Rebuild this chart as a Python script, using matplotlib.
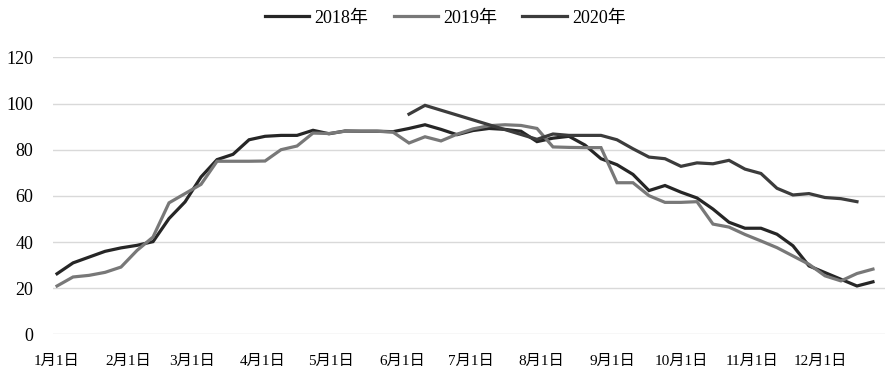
import numpy as np
import pandas as pd
import matplotlib
matplotlib.use('Agg')
import matplotlib.pyplot as plt

plt.rcParams['font.family'] = ['Liberation Serif', 'Noto Sans CJK SC']

# weekly points, week 0 = Jan 1
weeks = np.arange(52)

y2018 = [26.3, 31.0, 33.5, 36.0, 37.5, 38.6, 40.2, 50.2, 57.4, 68.2,
         75.7, 78.0, 84.3, 85.8, 86.2, 86.2, 88.4, 86.9, 88.1, 88.0,
         88.0, 87.8, 89.2, 90.8, 88.8, 86.5, 88.3, 89.2, 88.8, 88.0,
         83.5, 85.0, 85.8, 82.0, 76.1, 73.5, 69.3, 62.3, 64.5, 61.6,
         59.1, 54.3, 48.6, 46.0, 46.0, 43.4, 38.4, 29.7, 26.8, 23.9,
         21.0, 22.8]

y2019 = [21.0, 24.9, 25.6, 26.9, 29.2, 36.4, 42.2, 57.0, 61.0, 65.0,
         75.0, 75.0, 75.0, 75.1, 80.0, 81.6, 87.2, 87.0, 88.0, 88.0,
         88.0, 87.6, 82.9, 85.6, 83.8, 86.7, 89.0, 90.4, 90.8, 90.5,
         89.2, 81.2, 81.0, 80.9, 80.9, 65.7, 65.7, 60.1, 57.2, 57.2,
         57.5, 47.8, 46.5, 43.3, 40.5, 37.6, 34.0, 30.4, 25.4, 23.2,
         26.4, 28.3]

nan = np.nan
y2020 = [nan] * 22 + [95.4, 99.2, nan, nan, nan, nan, nan, nan,
                      84.5, 86.8, 86.2, 86.2, 86.2, 84.3, 80.4, 76.8,
                      76.1, 72.8, 74.3, 73.9, 75.4, 71.6, 69.7, 63.3,
                      60.4, 61.0, 59.3, 58.8, 57.5, nan]

month_labels = ['1月1日', '2月1日', '3月1日', '4月1日', '5月1日', '6月1日',
                '7月1日', '8月1日', '9月1日', '10月1日', '11月1日', '12月1日']
month_days = pd.date_range('2019-01-01', periods=12, freq='MS').dayofyear - 1

series = [('2018年', y2018, '#262626'),
          ('2019年', y2019, '#787878'),
          ('2020年', y2020, '#3c3c3c')]

fig = plt.figure(figsize=(8.87, 3.88), dpi=100)
ax = fig.add_axes([0.0598, 0.1379, 0.9379, 0.7144])

days = weeks * 7
for name, vals, col in series:
    v = np.array(vals, dtype=float)
    m = ~np.isnan(v)
    ax.plot(days[m], v[m], color=col, lw=2.3, label=name, solid_joinstyle='miter')

ax.set_ylim(0, 120)
ax.set_yticks(range(0, 121, 20))
ax.set_xlim(-1.75, 362.25)
ax.set_xticks(month_days)
ax.set_xticklabels(month_labels, fontsize=11)
ax.tick_params(axis='y', labelsize=13, length=0, pad=14)
ax.tick_params(axis='x', length=0, pad=15)
ax.grid(axis='y', color='#d9d9d9', lw=1)
ax.set_axisbelow(True)
for s in ax.spines.values():
    s.set_visible(False)

fig.legend(loc='center', bbox_to_anchor=(0.502, 0.953), ncol=3, frameon=False,
           fontsize=13, handlelength=2.45, handletextpad=0.3, columnspacing=1.4)

fig.savefig('out.png', dpi=100)
